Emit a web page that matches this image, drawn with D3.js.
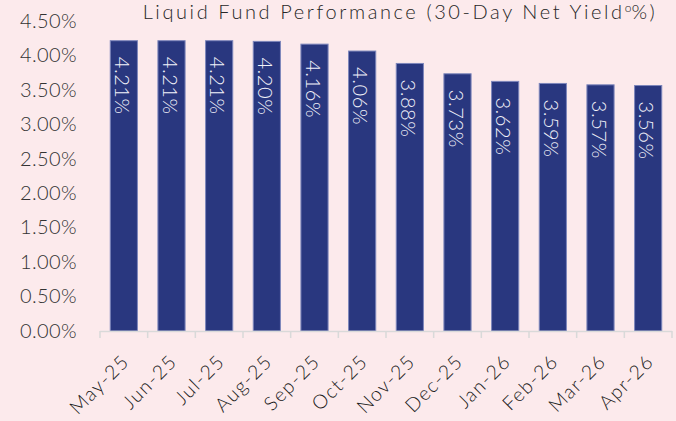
<!DOCTYPE html>
<html>
<head>
<meta charset="utf-8">
<script src="https://cdn.jsdelivr.net/npm/d3@7"></script>
<style>
  html, body { margin: 0; padding: 0; background: #fceaec; }
  svg text { font-family: "Lato", "Open Sans", sans-serif; font-weight: 300; }
</style>
</head>
<body>
<svg id="chart" width="676" height="421"></svg>
<script>
// Dados
const months = ['May-25', 'Jun-25', 'Jul-25', 'Aug-25', 'Sep-25', 'Oct-25',
                'Nov-25', 'Dec-25', 'Jan-26', 'Feb-26', 'Mar-26', 'Apr-26'];
const yields = [4.21, 4.21, 4.21, 4.20, 4.16, 4.06, 3.88, 3.73, 3.62, 3.59, 3.57, 3.56];
const yTicks = [0, 0.5, 1, 1.5, 2, 2.5, 3, 3.5, 4, 4.5];

const svg = d3.select('#chart');
const plot = {left: 100, right: 672, top: 20.7, bottom: 331};

const x = d3.scaleBand()
    .domain(months)
    .range([plot.left, plot.right])
    .paddingInner(0.43)
    .paddingOuter(0.215);

const y = d3.scaleLinear()
    .domain([0, 4.5])
    .range([plot.bottom, plot.top]);

// Título
const title = svg.append('text')
    .attr('x', 400)
    .attr('y', 19)
    .attr('text-anchor', 'middle')
    .style('font-size', '20px')
    .style('letter-spacing', '2.6px')
    .style('fill', '#262626')
    .text('Liquid Fund Performance (30-Day Net Yield');
title.append('tspan')
    .attr('dy', -7)
    .style('font-size', '12px')
    .style('letter-spacing', '0px')
    .text('o');
title.append('tspan')
    .attr('dy', 7)
    .text('%)');

// Eixo Y (somente rótulos)
const yAxis = svg.append('g')
    .attr('transform', `translate(${plot.left},0)`)
    .call(d3.axisLeft(y).tickValues(yTicks).tickFormat(d => d.toFixed(2) + '%').tickSize(0).tickPadding(23));
yAxis.select('.domain').remove();
yAxis.selectAll('text')
    .style('font-size', '20px')
    .style('letter-spacing', '0.4px')
    .style('font-family', '"Lato", sans-serif')
    .style('fill', '#333333');

// Barras
svg.selectAll('.bar')
    .data(yields)
    .enter()
    .append('rect')
    .attr('class', 'bar')
    .attr('x', (d, i) => x(months[i]))
    .attr('y', d => y(d))
    .attr('width', x.bandwidth())
    .attr('height', d => plot.bottom - y(d))
    .style('fill', '#29377f')
    .style('stroke', '#7d86bb')
    .style('stroke-width', 1);

// Rótulos das barras (rotacionados)
svg.selectAll('.bar-label')
    .data(yields)
    .enter()
    .append('text')
    .attr('class', 'bar-label')
    .attr('transform', (d, i) => `translate(${x(months[i]) + x.bandwidth() / 2 - 1},${y(d) + 16}) rotate(90)`)
    .attr('dominant-baseline', 'central')
    .style('font-size', '20px')
    .style('letter-spacing', '0.6px')
    .style('fill', '#f2f2fa')
    .text(d => d.toFixed(2) + '%');

// Eixo X
const xAxis = svg.append('g')
    .attr('transform', `translate(0,${plot.bottom})`);
xAxis.append('line')
    .attr('x1', plot.left).attr('x2', plot.right)
    .attr('y1', 0.5).attr('y2', 0.5)
    .style('stroke', '#d9d9d9')
    .style('stroke-width', 1.5);
const boundaries = months.map(m => x(m) - x.step() * x.paddingInner() / 2).concat([plot.right]);
xAxis.selectAll('.tick-mark')
    .data(boundaries)
    .enter()
    .append('line')
    .attr('x1', d => d).attr('x2', d => d)
    .attr('y1', 0).attr('y2', 7)
    .style('stroke', '#d9d9d9')
    .style('stroke-width', 1.5);

xAxis.selectAll('.x-label')
    .data(months)
    .enter()
    .append('text')
    .attr('transform', d => `translate(${x(d) + x.bandwidth() / 2 - 4},${21}) rotate(-45)`)
    .attr('text-anchor', 'end')
    .attr('dominant-baseline', 'hanging')
    .style('font-size', '19.5px')
    .style('letter-spacing', '1.4px')
    .style('fill', '#1a1a1a')
    .text(d => d);
</script>
</body>
</html>
